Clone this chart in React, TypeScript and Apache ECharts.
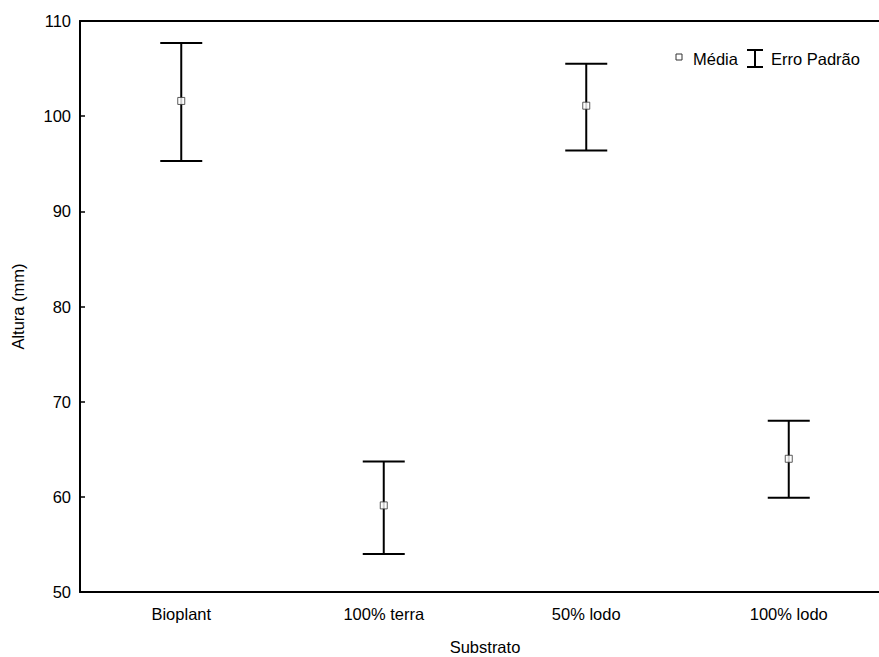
import React, { useEffect, useRef } from "react";
import * as echarts from "echarts";

const categories = ["Bioplant", "100% terra", "50% lodo", "100% lodo"];
const means = [101.6, 59.1, 101.1, 64.0];
const lowers = [95.3, 54.0, 96.4, 59.9];
const uppers = [107.7, 63.7, 105.5, 68.0];
const yTicks = { min: 50, max: 110, interval: 10 };

export default function App() {
  const ref = useRef<HTMLDivElement>(null);
  useEffect(() => {
    if (!ref.current) return;
    const chart = echarts.init(ref.current, null, { renderer: "svg" });
    const font = "Liberation Sans, Arial, sans-serif";
    const fs = 16.5;
    const errData = categories.map((_, i) => [i, lowers[i], uppers[i]]);
    chart.setOption({
      animation: false,
      backgroundColor: "#fff",
      textStyle: { fontFamily: font },
      grid: { left: 80, top: 21, bottom: 65, width: 810, containLabel: false, outerBoundsMode: "none" },
      xAxis: [
        {
          type: "category",
          data: categories,
          boundaryGap: true,
          position: "bottom",
          name: "Substrato",
          nameLocation: "middle",
          nameGap: 46,
          nameTextStyle: { color: "#000", fontSize: fs, fontFamily: font },
          axisLine: { lineStyle: { color: "#000", width: 2 } },
          axisTick: { inside: true, alignWithLabel: true, length: 5, lineStyle: { color: "#000", width: 1.5 } },
          axisLabel: { color: "#000", fontSize: fs, margin: 13, fontFamily: font },
          splitLine: { show: false },
        },
        {
          type: "category",
          data: categories,
          boundaryGap: true,
          position: "top",
          axisLine: { lineStyle: { color: "#000", width: 2 } },
          axisTick: { inside: true, alignWithLabel: true, length: 5, lineStyle: { color: "#000", width: 1.5 } },
          axisLabel: { show: false },
          splitLine: { show: false },
        },
      ],
      yAxis: {
        type: "value",
        min: yTicks.min,
        max: yTicks.max,
        interval: yTicks.interval,
        name: "Altura (mm)",
        nameLocation: "middle",
        nameGap: 54,
        nameTextStyle: { color: "#000", fontSize: fs, fontFamily: font },
        axisLine: { show: true, lineStyle: { color: "#000", width: 2 } },
        axisTick: { show: true, inside: true, length: 5, lineStyle: { color: "#000", width: 1.5 } },
        axisLabel: { color: "#000", fontSize: fs, margin: 9, fontFamily: font },
        splitLine: { show: false },
      },
      series: [
        {
          type: "custom",
          name: "Erro Padrão",
          data: errData,
          encode: { x: 0, y: [1, 2] },
          renderItem: (params: any, api: any) => {
            const x = api.value(0);
            const lo = api.coord([x, api.value(1)]);
            const hi = api.coord([x, api.value(2)]);
            const hw = 21;
            const style = { stroke: "#000", lineWidth: 2 };
            return {
              type: "group",
              children: [
                { type: "line", shape: { x1: hi[0], y1: hi[1], x2: lo[0], y2: lo[1] }, style },
                { type: "line", shape: { x1: hi[0] - hw, y1: hi[1], x2: hi[0] + hw, y2: hi[1] }, style },
                { type: "line", shape: { x1: lo[0] - hw, y1: lo[1], x2: lo[0] + hw, y2: lo[1] }, style },
              ],
            };
          },
          z: 2,
        },
        {
          type: "scatter",
          name: "Média",
          data: means,
          symbol: "rect",
          symbolSize: 7,
          itemStyle: { color: "#fff", borderColor: "#333", borderWidth: 1 },
          z: 3,
        },
      ],
      graphic: [
        { type: "rect", shape: { x: 676, y: 54, width: 6, height: 6 }, style: { fill: "#fff", stroke: "#333", lineWidth: 1 } },
        { type: "text", x: 693, y: 59, style: { text: "Média", fill: "#000", font: fs + "px " + font, verticalAlign: "middle" } },
        { type: "line", shape: { x1: 755, y1: 50, x2: 755, y2: 67 }, style: { stroke: "#000", lineWidth: 2 } },
        { type: "line", shape: { x1: 747, y1: 50, x2: 763, y2: 50 }, style: { stroke: "#000", lineWidth: 2 } },
        { type: "line", shape: { x1: 747, y1: 67, x2: 763, y2: 67 }, style: { stroke: "#000", lineWidth: 2 } },
        { type: "text", x: 771, y: 59, style: { text: "Erro Padrão", fill: "#000", font: fs + "px " + font, verticalAlign: "middle" } },
      ],
    });
    return () => chart.dispose();
  }, []);
  return (
    <div
      ref={ref}
      style={{ position: "fixed", left: 0, top: 0, width: 879, height: 657, background: "#fff" }}
    />
  );
}
